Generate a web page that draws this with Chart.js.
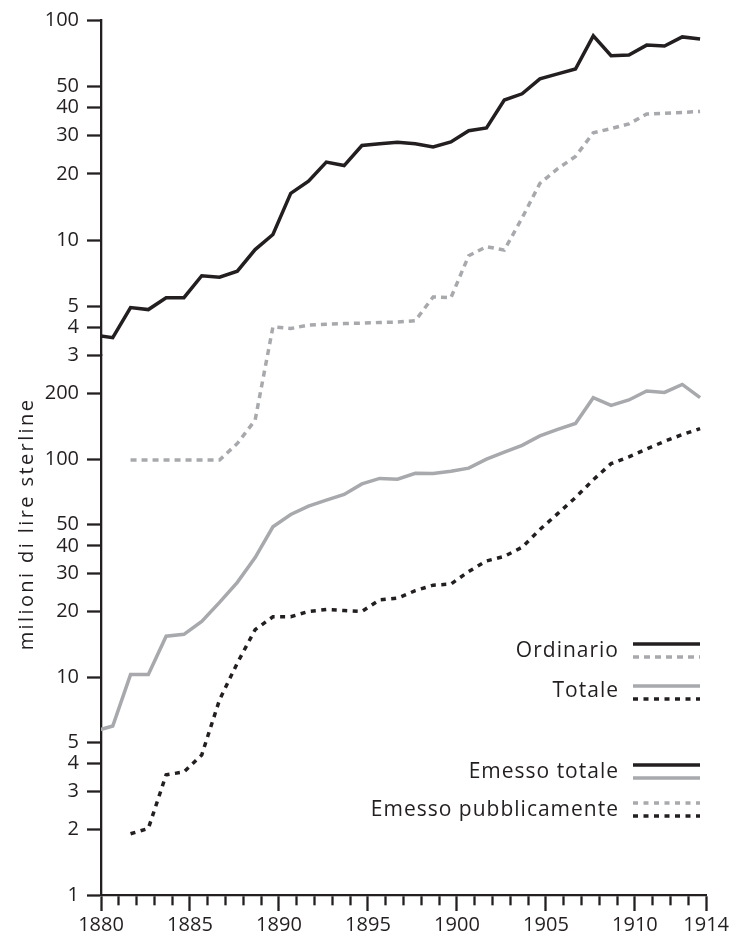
<!DOCTYPE html>
<html lang="it">
<head>
<meta charset="utf-8">
<title>Emissioni in milioni di lire sterline, 1880-1914</title>
<script src="https://cdn.jsdelivr.net/npm/chart.js@4.4.1/dist/chart.umd.min.js"></script>
<style>
  html, body { margin: 0; padding: 0; background: #fff; }
  #wrap { width: 731px; height: 939px; }
</style>
</head>
<body>
<div id="wrap"><canvas id="chart" width="731" height="939"></canvas></div>
<script>
// anni 1880-1914, un valore per anno (null = non disponibile)
const years = [];
for (let y = 1880; y <= 1914; y++) years.push(y);

// Ordinario (scala in alto)
const ordinarioTotale = [
  3.7, 3.6, 4.93, 4.83, 5.47, 5.47, 6.88, 6.78, 7.22, 9.05,
  10.6, 16.3, 18.5, 22.6, 21.8, 26.9, 27.4, 27.8, 27.4, 26.5,
  27.9, 31.4, 32.3, 43.3, 46.2, 54.0, 56.9, 59.9, 84.7, 68.8,
  69.3, 76.9, 76.1, 83.8, 82.0
];
const ordinarioPubblico = [
  null, null, 1.0, 1.0, 1.0, 1.0, 1.0, 1.0, 1.19, 1.52,
  4.03, 3.96, 4.11, 4.14, 4.17, 4.19, 4.22, 4.24, 4.30, 5.51,
  5.47, 8.49, 9.33, 9.0, 12.6, 18.1, 21.1, 24.0, 30.7, 32.1,
  33.7, 37.4, 37.7, 38.0, 38.4
];

// Totale (scala in basso)
const totaleEmesso = [
  5.65, 5.96, 10.26, 10.26, 15.4, 15.7, 18.0, 22.0, 27.2, 35.3,
  48.9, 55.7, 60.8, 64.8, 68.8, 76.9, 81.5, 80.9, 86.0, 85.8,
  88.0, 90.9, 100, 107.6, 115.6, 127.8, 136.8, 145.6, 191.3, 176.4,
  186.7, 205.3, 202.3, 220.0, 191.3
];
const totalePubblico = [
  null, null, 1.91, 2.02, 3.56, 3.67, 4.39, 7.86, 11.6, 16.5,
  18.9, 18.9, 20.0, 20.4, 20.2, 20.0, 22.6, 23.0, 24.9, 26.4,
  26.7, 30.5, 34.1, 35.8, 39.4, 47.5, 56.2, 66.6, 80.4, 95.3,
  102.4, 111.3, 120.6, 129.5, 138
];

const labeledYears = [1880, 1885, 1890, 1895, 1900, 1905, 1910, 1914];
const topTicks = [3, 4, 5, 10, 20, 30, 40, 50, 100];
const bottomTicks = [1, 2, 3, 4, 5, 10, 20, 30, 40, 50, 100, 200];
const yTitle = 'milioni di lire sterline';

const INK = '#231f20';
const GREY = '#a7a9ac';
const FONT = '"Open Sans", sans-serif';

// nel grafico originale gli anni cadono circa un terzo d'anno prima della tacca
const YEAR_SHIFT = 0.34;

const toPoints = vals => years.map((yr, i) => ({ x: yr, y: vals[i] })).filter(p => p.y != null);

const solid = [];
const dashed = [6, 5];
const dotted = [5, 5.5];

const legendRows = [
  { label: 'Ordinario',            base: 657, lines: [[644, INK, solid], [657, GREY, dashed]] },
  { label: 'Totale',               base: 697, lines: [[686, GREY, solid], [699, INK, dotted]] },
  { label: 'Emesso totale',        base: 778, lines: [[765, INK, solid], [778, GREY, solid]] },
  { label: 'Emesso pubblicamente', base: 816, lines: [[803, GREY, dotted], [816, INK, dotted]] }
];

const decorations = {
  id: 'decorations',
  afterDraw(chart) {
    const ctx = chart.ctx;
    ctx.save();
    ctx.fillStyle = INK;
    ctx.font = '20px ' + FONT;
    ctx.letterSpacing = '2.4px';
    ctx.translate(33, 524);
    ctx.rotate(-Math.PI / 2);
    ctx.textAlign = 'center';
    ctx.textBaseline = 'alphabetic';
    ctx.fillText(yTitle, 0, 0);
    ctx.restore();

    ctx.save();
    ctx.font = '21px ' + FONT;
    ctx.letterSpacing = '1px';
    ctx.fillStyle = INK;
    ctx.textAlign = 'right';
    ctx.textBaseline = 'alphabetic';
    legendRows.forEach(row => {
      ctx.fillText(row.label, 619, row.base);
      row.lines.forEach(([y, color, dash]) => {
        ctx.beginPath();
        ctx.setLineDash(dash);
        ctx.strokeStyle = color;
        ctx.lineWidth = 3.5;
        ctx.moveTo(633, y);
        ctx.lineTo(700, y);
        ctx.stroke();
      });
    });
    ctx.restore();
  }
};

const line = (data, color, dash, axis, extra) => Object.assign({
  data: toPoints(data),
  borderColor: color,
  borderWidth: 3.5,
  borderDash: dash,
  borderJoinStyle: 'miter',
  pointRadius: 0,
  tension: 0,
  fill: false,
  xAxisID: 'xData',
  yAxisID: axis
}, extra);

const yAxis = (ticks, extra) => Object.assign({
  type: 'logarithmic',
  position: 'left',
  stack: 'valori',
  afterBuildTicks: s => { s.ticks = ticks.map(v => ({ value: v })); },
  afterFit: s => { s.width = 101; },
  ticks: {
    autoSkip: false,
    color: INK,
    padding: 8,
    font: { family: FONT, size: 20 },
    callback: v => String(v)
  },
  grid: { drawOnChartArea: false, tickLength: 14, tickWidth: 2.3, tickColor: INK },
  border: { color: INK, width: 2.3 }
}, extra);

Chart.defaults.font.family = FONT;

new Chart(document.getElementById('chart'), {
  type: 'line',
  data: {
    datasets: [
      // i primi anni scendono sotto il 3 della scala alta: non ritagliare
      line(ordinarioPubblico, GREY, dashed, 'yTop', { clip: false }),
      line(totaleEmesso, GREY, solid, 'yBottom'),
      line(totalePubblico, INK, dotted, 'yBottom'),
      line(ordinarioTotale, INK, solid, 'yTop')
    ]
  },
  options: {
    responsive: false,
    animation: false,
    layout: { padding: { top: 15, right: 23, bottom: 0, left: 0 } },
    plugins: { legend: { display: false }, tooltip: { enabled: false } },
    scales: {
      x: {
        type: 'linear',
        position: 'bottom',
        min: 1880,
        max: 1914,
        afterBuildTicks: s => { s.ticks = years.map(v => ({ value: v })); },
        afterFit: s => { s.height = 44; },
        ticks: {
          autoSkip: false,
          maxRotation: 0,
          color: INK,
          padding: 2,
          font: { family: FONT, size: 20 },
          callback: v => labeledYears.includes(v) ? String(v) : ''
        },
        grid: {
          drawOnChartArea: false,
          tickLength: 16,
          tickWidth: 2.3,
          tickColor: INK,
          // tacche annuali piu corte di quelle quinquennali
          tickBorderDash: c => labeledYears.includes(c.tick && c.tick.value) ? [] : [9, 40]
        },
        border: { color: INK, width: 2.3 }
      },
      xData: {
        type: 'linear',
        display: false,
        min: 1880 + YEAR_SHIFT,
        max: 1914 + YEAR_SHIFT
      },
      yTop: yAxis(topTicks, { min: 3, max: 100, stackWeight: 337, weight: 2 }),
      yBottom: yAxis(bottomTicks, { min: 1, max: 300, stackWeight: 543, weight: 1 })
    }
  },
  plugins: [decorations]
});
</script>
</body>
</html>
